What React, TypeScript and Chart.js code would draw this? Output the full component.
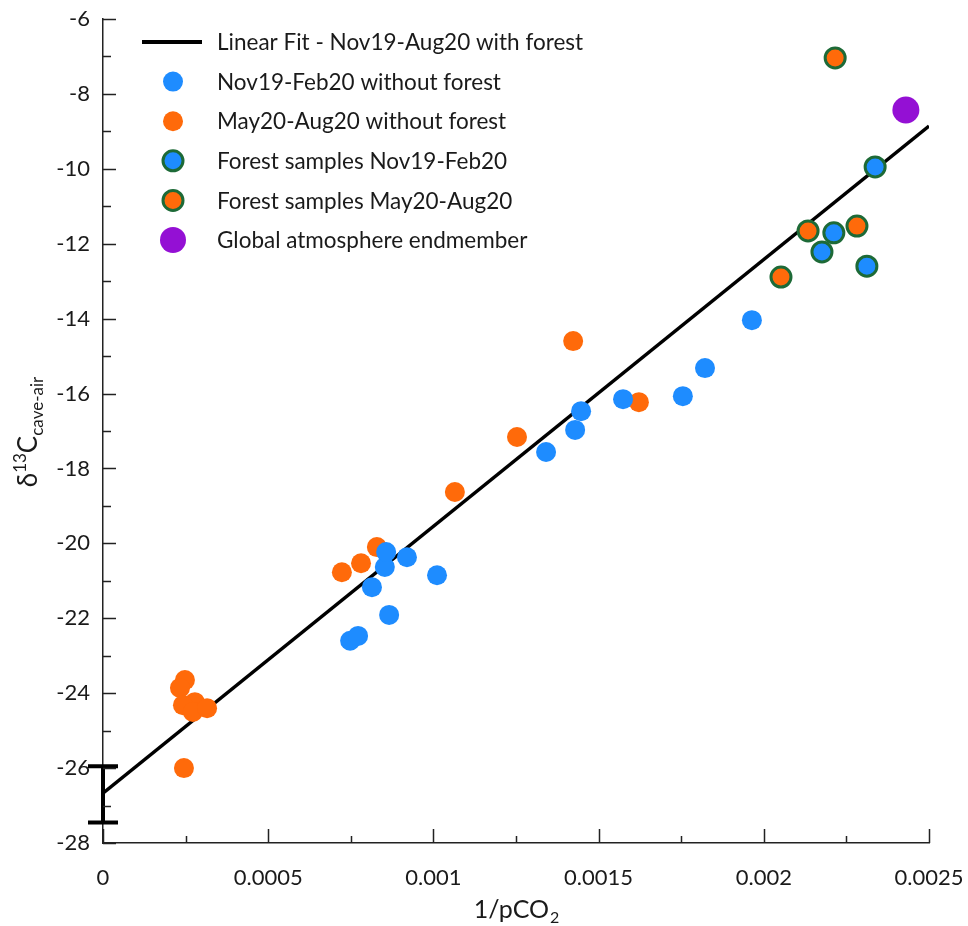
import React, { useEffect, useRef } from "react";
import { Chart, registerables } from "chart.js";
Chart.register(...registerables);

const FONT = "Lato, 'Open Sans', sans-serif";
const TEXT = "#1a1a1a";
const BLUE = "#1e8cff";
const ORANGE = "#ff6a0a";
const GREEN = "#1d6a37";
const PURPLE = "#9410d4";

const xTickLabels = ["0", "0.0005", "0.001", "0.0015", "0.002", "0.0025"];
const yTickLabels = ["-28", "-26", "-24", "-22", "-20", "-18", "-16", "-14", "-12", "-10", "-8", "-6"];

const legendLabels = [
  "Linear Fit - Nov19-Aug20 with forest",
  "Nov19-Feb20 without forest",
  "May20-Aug20 without forest",
  "Forest samples Nov19-Feb20",
  "Forest samples May20-Aug20",
  "Global atmosphere endmember",
];

// Linear fit
const fitX = [0, 0.0025];
const fitY = [-26.67, -8.86];

// Intercept uncertainty (error bar at x = 0)
const errX = [0];
const errLow = [-27.45];
const errHigh = [-25.95];

// Nov19-Feb20 without forest
const blueX = [0.000748, 0.000772, 0.000814, 0.000853, 0.000857, 0.000866, 0.00092, 0.001011, 0.001341, 0.001429, 0.001447, 0.001574, 0.001755, 0.001822, 0.001964];
const blueY = [-22.6, -22.47, -21.17, -20.63, -20.23, -21.91, -20.37, -20.85, -17.56, -16.97, -16.47, -16.15, -16.07, -15.32, -14.04];

// May20-Aug20 without forest
const orangeX = [0.000248, 0.000233, 0.000278, 0.000242, 0.000272, 0.000315, 0.000245, 0.000723, 0.000781, 0.000829, 0.001065, 0.001253, 0.001423, 0.001622];
const orangeY = [-23.65, -23.86, -24.24, -24.32, -24.5, -24.4, -26.0, -20.77, -20.53, -20.1, -18.63, -17.16, -14.6, -16.23];

// Forest samples Nov19-Feb20
const forestBlueX = [0.002337, 0.002212, 0.002176, 0.002312];
const forestBlueY = [-9.95, -11.71, -12.22, -12.6];

// Forest samples May20-Aug20
const forestOrangeX = [0.002216, 0.002134, 0.002282, 0.002052];
const forestOrangeY = [-7.04, -11.66, -11.53, -12.89];

// Global atmosphere endmember
const atmX = [0.00243];
const atmY = [-8.43];

const pts = (xs: number[], ys: number[]) => xs.map((x, i) => ({ x, y: ys[i] }));

export default function App() {
  const ref = useRef<HTMLCanvasElement>(null);

  useEffect(() => {
    document.body.style.margin = "0";
    const decor = {
      id: "decor",
      afterDatasetsDraw(chart: any) {
        const ctx = chart.ctx;
        const xs = chart.scales.x;
        const ys = chart.scales.y;
        ctx.save();
        ctx.strokeStyle = "#000";
        ctx.lineWidth = 4;
        ctx.lineCap = "butt";
        errX.forEach((ex, i) => {
          const px = xs.getPixelForValue(ex);
          const p1 = ys.getPixelForValue(errLow[i]);
          const p2 = ys.getPixelForValue(errHigh[i]);
          ctx.beginPath();
          ctx.moveTo(px, p1);
          ctx.lineTo(px, p2);
          ctx.moveTo(px - 15, p1);
          ctx.lineTo(px + 15, p1);
          ctx.moveTo(px - 15, p2);
          ctx.lineTo(px + 15, p2);
          ctx.stroke();
        });
        ctx.restore();
      },
      afterDraw(chart: any) {
        const ctx = chart.ctx;
        const xs = chart.scales.x;
        const ys = chart.scales.y;
        const area = chart.chartArea;
        ctx.save();
        // inward ticks
        ctx.strokeStyle = "#222";
        ctx.lineWidth = 1.5;
        ctx.beginPath();
        for (let k = 0; k <= 22; k++) {
          const v = -28 + k;
          const py = Math.round(ys.getPixelForValue(v)) + 0.5;
          const len = k % 2 === 0 ? 13 : 8;
          ctx.moveTo(area.left, py);
          ctx.lineTo(area.left + len, py);
        }
        for (let k = 0; k <= 10; k++) {
          const v = k * 0.00025;
          const px = Math.round(xs.getPixelForValue(v)) + 0.5;
          const len = k % 2 === 0 ? 14 : 7;
          ctx.moveTo(px, area.bottom);
          ctx.lineTo(px, area.bottom - len);
        }
        ctx.stroke();

        // x axis title
        ctx.fillStyle = TEXT;
        ctx.textBaseline = "alphabetic";
        ctx.textAlign = "left";
        const bigX = `25px ${FONT}`;
        const smallX = `16px ${FONT}`;
        ctx.font = bigX;
        const w1 = ctx.measureText("1/pCO").width;
        ctx.font = smallX;
        const w2 = ctx.measureText("2").width;
        const cx = (area.left + area.right) / 2;
        let sx = cx - (w1 + w2) / 2;
        ctx.font = bigX;
        ctx.fillText("1/pCO", sx, 918);
        ctx.font = smallX;
        ctx.fillText("2", sx + w1 + 1, 923);

        // y axis title
        const bigY = `26px ${FONT}`;
        const smallY = `17px ${FONT}`;
        const parts: [string, string, number][] = [
          ["\u03b4", bigY, 0],
          ["13", smallY, -11],
          ["C", bigY, 0],
          ["cave-air", smallY, 6],
        ];
        let total = 0;
        const widths = parts.map(([t, f]) => {
          ctx.font = f;
          const w = ctx.measureText(t).width;
          total += w;
          return w;
        });
        ctx.translate(37, 432);
        ctx.rotate(-Math.PI / 2);
        let tx = -total / 2;
        parts.forEach(([t, f, dy], i) => {
          ctx.font = f;
          ctx.fillText(t, tx, dy);
          tx += widths[i];
        });
        ctx.setTransform(1, 0, 0, 1, 0, 0);
        ctx.restore();

        // legend
        ctx.save();
        const rowY0 = 42;
        const rowH = 39.6;
        const mx = 173;
        ctx.font = `22.5px ${FONT}`;
        ctx.fillStyle = TEXT;
        ctx.textBaseline = "middle";
        legendLabels.forEach((lab, i) => {
          const y = rowY0 + i * rowH;
          if (i === 0) {
            ctx.strokeStyle = "#000";
            ctx.lineWidth = 4;
            ctx.beginPath();
            ctx.moveTo(142, y);
            ctx.lineTo(202, y);
            ctx.stroke();
          } else {
            const fill = [BLUE, ORANGE, BLUE, ORANGE, PURPLE][i - 1];
            const r = i === 5 ? 13 : 10;
            ctx.beginPath();
            ctx.arc(mx, y, r, 0, Math.PI * 2);
            ctx.fillStyle = fill;
            ctx.fill();
            if (i === 3 || i === 4) {
              ctx.strokeStyle = GREEN;
              ctx.lineWidth = 3;
              ctx.stroke();
            }
          }
          ctx.fillStyle = TEXT;
          ctx.fillText(lab, 217, y + 1);
        });
        ctx.restore();
      },
    };

    const chart = new Chart(ref.current as HTMLCanvasElement, {
      type: "scatter",
      data: {
        datasets: [
          {
            label: legendLabels[5],
            data: pts(atmX, atmY),
            backgroundColor: PURPLE,
            borderColor: PURPLE,
            borderWidth: 0,
            pointRadius: 13.5,
            order: 1,
          },
          {
            label: legendLabels[4],
            data: pts(forestOrangeX, forestOrangeY),
            backgroundColor: ORANGE,
            borderColor: GREEN,
            borderWidth: 3,
            pointRadius: 10,
            order: 1,
          },
          {
            label: legendLabels[3],
            data: pts(forestBlueX, forestBlueY),
            backgroundColor: BLUE,
            borderColor: GREEN,
            borderWidth: 3,
            pointRadius: 10,
            order: 1,
          },
          {
            label: legendLabels[2],
            data: pts(orangeX, orangeY),
            backgroundColor: ORANGE,
            borderColor: ORANGE,
            borderWidth: 0,
            pointRadius: 10,
            order: 2,
          },
          {
            label: legendLabels[1],
            data: pts(blueX, blueY),
            backgroundColor: BLUE,
            borderColor: BLUE,
            borderWidth: 0,
            pointRadius: 10,
            order: 1,
          },
          {
            type: "line",
            label: legendLabels[0],
            data: pts(fitX, fitY),
            borderColor: "#000",
            backgroundColor: "#000",
            borderWidth: 3.5,
            pointRadius: 0,
            showLine: true,
            fill: false,
            order: 10,
          } as any,
        ],
      },
      options: {
        animation: false,
        responsive: false,
        devicePixelRatio: 1,
        events: [],
        layout: { padding: { top: 19, right: 39, left: 0, bottom: 0 } },
        plugins: {
          legend: { display: false },
          tooltip: { enabled: false },
        },
        datasets: { scatter: { clip: false } as any },
        scales: {
          x: {
            type: "linear",
            min: 0,
            max: 0.0025,
            afterFit: (s: any) => {
              s.height = 83;
              s.paddingLeft = 0;
              s.paddingRight = 0;
            },
            ticks: {
              stepSize: 0.0005,
              autoSkip: false,
              maxRotation: 0,
              padding: 22,
              color: TEXT,
              font: { family: FONT, size: 22 },
              callback: (_v: any, i: number) => xTickLabels[i],
            },
            grid: { display: true, drawOnChartArea: false, drawTicks: false },
            border: { display: true, color: "#222", width: 1.5 },
          },
          y: {
            type: "linear",
            min: -28,
            max: -6,
            afterFit: (s: any) => {
              s.width = 103;
              s.paddingTop = 0;
              s.paddingBottom = 0;
            },
            ticks: {
              stepSize: 2,
              autoSkip: false,
              padding: 13,
              color: TEXT,
              font: { family: FONT, size: 22 },
              callback: (_v: any, i: number) => yTickLabels[i],
            },
            grid: { display: true, drawOnChartArea: false, drawTicks: false },
            border: { display: true, color: "#222", width: 1.5 },
          },
        },
      } as any,
      plugins: [decor],
    });
    return () => chart.destroy();
  }, []);

  return <canvas ref={ref} width={968} height={926} style={{ display: "block" }} />;
}
